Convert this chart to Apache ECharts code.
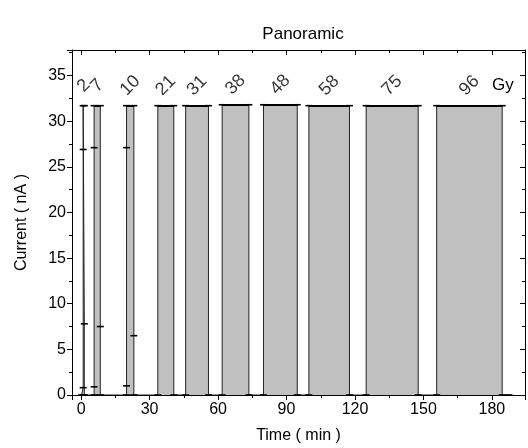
<!DOCTYPE html>
<html>

<head>
    <meta charset="utf-8">
    <script src="https://cdn.jsdelivr.net/npm/echarts@6/dist/echarts.min.js"></script>
</head>

<body style="margin:0">
    <div id="main" style="width: 528px;height:448px;"></div>
    <script>
        // dose (Gy) of each exposure and when the beam was on/off (min)
        var doses = [2, 7, 10, 21, 31, 38, 48, 58, 75, 96];
        var beamOn = [0.9, 5.7, 19.9, 33.6, 45.8, 61.8, 79.9, 99.8, 124.9, 155.8];
        var beamOff = [1.4, 8.4, 23.1, 40.6, 55.8, 73.5, 94.7, 117.6, 147.7, 184.5];
        var plateau = [31.7, 31.7, 31.7, 31.7, 31.7, 31.8, 31.8, 31.7, 31.7, 31.7];
        // samples caught on the ramps of the three short exposures
        var riseLow = [0.8, 0.9, 1.0];
        var riseHigh = [26.9, 27.1, 27.1];
        var fallMid = [7.8, 7.5, 6.5];
        var traceStart = 0.2;
        var traceEnd = 187.5;

        var font = 'Liberation Sans';

        // build the current trace
        var trace = [[traceStart, 0]];
        var caps = [];
        var labels = [];
        for (var i = 0; i < doses.length; i++) {
            trace.push([beamOn[i], 0]);
            if (i < riseLow.length) {
                trace.push([beamOn[i], riseLow[i]]);
                trace.push([beamOn[i], riseHigh[i]]);
            }
            trace.push([beamOn[i], plateau[i]]);
            trace.push([beamOff[i], plateau[i]]);
            if (i < fallMid.length) {
                trace.push([beamOff[i], fallMid[i]]);
            }
            trace.push([beamOff[i], 0]);
            caps.push([{ coord: [beamOn[i], plateau[i]] }, { coord: [beamOff[i], plateau[i]] }]);
            labels.push([(beamOn[i] + beamOff[i]) / 2, plateau[i] + 2.2, doses[i]]);
        }
        trace.push([traceEnd, 0]);

        var myChart = echarts.init(document.getElementById('main'));

        var tickLabel = { fontFamily: font, fontSize: 16, color: '#000' };

        option = {
            animation: false,
            backgroundColor: '#fff',
            title: {
                text: 'Panoramic',
                left: 298,
                top: 21,
                textAlign: 'center',
                textStyle: { fontFamily: font, fontSize: 17, fontWeight: 'normal', color: '#000' }
            },
            grid: {
                left: 72,
                right: 3,
                top: 50,
                bottom: 53,
                outerBoundsMode: 'none'
            },
            graphic: [{
                type: 'text',
                left: 492,
                top: 77,
                style: { text: 'Gy', fontFamily: font, fontSize: 17, fill: '#000' }
            }],
            xAxis: [{
                type: 'value',
                min: -4,
                max: 194.5,
                splitNumber: 5,
                name: 'Time ( min )',
                nameLocation: 'middle',
                nameGap: 33,
                nameTextStyle: tickLabel,
                axisLine: { onZero: false, lineStyle: { color: '#000', width: 1 } },
                axisTick: { length: 5, lineStyle: { color: '#000' } },
                minorTick: { show: true, splitNumber: 2, length: 3, lineStyle: { color: '#000' } },
                axisLabel: Object.assign({ margin: 7, showMinLabel: false, showMaxLabel: false }, tickLabel),
                splitLine: { show: false }
            }, {
                type: 'value',
                position: 'top',
                min: -4,
                max: 194.5,
                splitNumber: 5,
                axisLine: { onZero: false, lineStyle: { color: '#000', width: 1 } },
                axisTick: { inside: true, length: 5, lineStyle: { color: '#000' } },
                minorTick: { show: true, splitNumber: 2, length: 3, lineStyle: { color: '#000' } },
                axisLabel: { show: false },
                splitLine: { show: false }
            }],
            yAxis: [{
                type: 'value',
                min: 0,
                max: 37.8,
                interval: 5,
                name: 'Current ( nA )',
                nameLocation: 'middle',
                nameGap: 42,
                nameTextStyle: tickLabel,
                axisLine: { onZero: false, lineStyle: { color: '#000', width: 1 } },
                axisTick: { length: 5, lineStyle: { color: '#000' } },
                minorTick: { show: true, splitNumber: 2, length: 3, lineStyle: { color: '#000' } },
                axisLabel: Object.assign({ margin: 6, showMaxLabel: false }, tickLabel),
                splitLine: { show: false }
            }, {
                type: 'value',
                position: 'right',
                min: 0,
                max: 37.8,
                interval: 5,
                axisLine: { onZero: false, lineStyle: { color: '#000', width: 1 } },
                axisTick: { inside: true, length: 5, lineStyle: { color: '#000' } },
                minorTick: { show: true, splitNumber: 2, length: 3, lineStyle: { color: '#000' } },
                axisLabel: { show: false },
                splitLine: { show: false }
            }],
            series: [{
                name: 'current',
                type: 'line',
                data: trace,
                symbol: 'rect',
                symbolSize: [7, 1.6],
                showAllSymbol: true,
                itemStyle: { color: '#000' },
                lineStyle: { color: '#222', width: 1 },
                areaStyle: { color: '#c0c0c0', opacity: 1 },
                silent: true,
                markLine: {                      // thicker top of every exposure
                    silent: true,
                    symbol: ['none', 'none'],
                    label: { show: false },
                    lineStyle: { type: 'solid', color: '#000', width: 2 },
                    data: caps
                }
            }, {
                name: 'dose',
                type: 'scatter',
                data: labels,
                symbolSize: 0,
                silent: true,
                label: {
                    show: true,
                    position: 'inside',
                    rotate: 45,
                    fontFamily: font,
                    fontSize: 18,
                    color: '#000',
                    formatter: function (params) {
                        return params.value[2];
                    }
                }
            }]
        };
        myChart.setOption(option);
    </script>
</body>

</html>
